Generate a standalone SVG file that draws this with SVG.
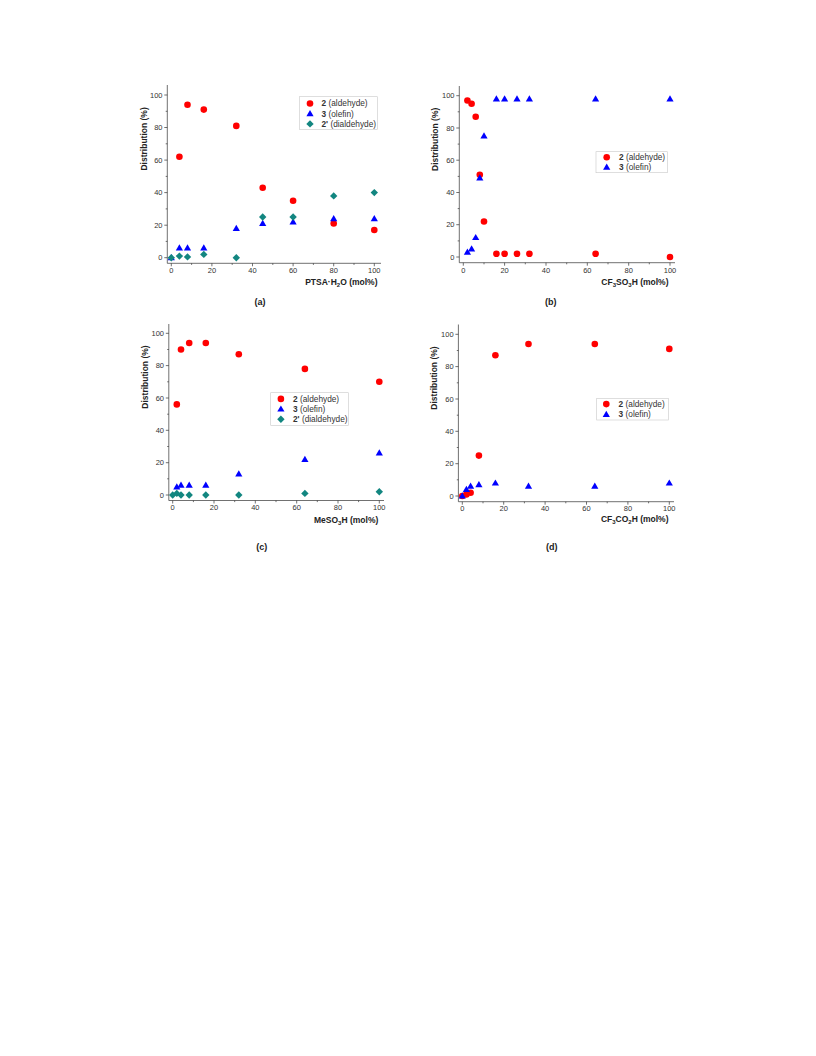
<svg xmlns="http://www.w3.org/2000/svg" xmlns:xlink="http://www.w3.org/1999/xlink" width="816" height="1056" viewBox="0 0 816 1056">
<style>
.ax{stroke:#333;stroke-width:0.7;fill:none}
.tk{font-family:"Liberation Sans",Arial,sans-serif;font-size:7.5px;fill:#333}
.tx{text-anchor:middle}
.ty{text-anchor:end}
.tt{font-family:"Liberation Sans",Arial,sans-serif;font-size:8.5px;font-weight:bold;fill:#222}
.lg{font-family:"Liberation Sans",Arial,sans-serif;font-size:8.3px;fill:#333}
.lb{stroke:#c8c8c8;stroke-width:0.6;fill:#fff}
.pl{font-family:"Liberation Sans",Arial,sans-serif;font-size:9px;font-weight:bold;fill:#222;text-anchor:middle}
.sub{font-size:6px}
</style>
<defs>
<circle id="c" r="3.3" fill="#ff0000"/>
<polygon id="t" points="0,-3.7 3.6,2.5 -3.6,2.5" fill="#0000ff"/>
<polygon id="d" points="0,-3.7 3.7,0 0,3.7 -3.7,0" fill="#128680"/>
</defs>
<rect width="816" height="1056" fill="#fff"/>

<!-- Panel (a) -->
<g id="panel-a">
<path class="ax" d="M167.3,85V263.3H381"/>
<path class="ax" d="M171.3,263.3v3M211.9,263.3v3M252.5,263.3v3M293.1,263.3v3M333.7,263.3v3M374.3,263.3v3M191.6,263.3v1.6M232.2,263.3v1.6M272.8,263.3v1.6M313.4,263.3v1.6M354,263.3v1.6M167.3,257.7h-3M167.3,225.2h-3M167.3,192.6h-3M167.3,160.1h-3M167.3,127.5h-3M167.3,95h-3M167.3,241.4h-1.6M167.3,208.9h-1.6M167.3,176.4h-1.6M167.3,143.8h-1.6M167.3,111.3h-1.6"/>
<g class="tk tx"><text x="171.3" y="272.7">0</text><text x="211.9" y="272.7">20</text><text x="252.5" y="272.7">40</text><text x="293.1" y="272.7">60</text><text x="333.7" y="272.7">80</text><text x="374.3" y="272.7">100</text></g>
<g class="tk ty"><text x="162.5" y="260.4">0</text><text x="162.5" y="227.9">20</text><text x="162.5" y="195.3">40</text><text x="162.5" y="162.8">60</text><text x="162.5" y="130.2">80</text><text x="162.5" y="97.7">100</text></g>
<text class="tt" transform="translate(147,138.9) rotate(-90)" text-anchor="middle">Distribution (%)</text>
<text class="tt" x="377.5" y="284.5" text-anchor="end">PTSA·H<tspan class="sub" dy="2">2</tspan><tspan dy="-2">O (mol%)</tspan></text>
<g id="a-s2"><use href="#c" x="179.4" y="156.8"/><use href="#c" x="187.5" y="104.8"/><use href="#c" x="203.8" y="109.6"/><use href="#c" x="236.3" y="125.9"/><use href="#c" x="262.7" y="187.7"/><use href="#c" x="293.1" y="200.8"/><use href="#c" x="333.7" y="223.5"/><use href="#c" x="374.3" y="230"/></g>
<g id="a-s3"><use href="#t" x="171.3" y="257.7"/><use href="#t" x="179.4" y="248"/><use href="#t" x="187.5" y="248"/><use href="#t" x="203.8" y="248"/><use href="#t" x="236.3" y="228.4"/><use href="#t" x="262.7" y="223.5"/><use href="#t" x="293.1" y="221.9"/><use href="#t" x="333.7" y="218.7"/><use href="#t" x="374.3" y="218.7"/></g>
<g id="a-s2p"><use href="#d" x="171.3" y="257.7"/><use href="#d" x="179.4" y="256.1"/><use href="#d" x="187.5" y="256.9"/><use href="#d" x="203.8" y="254.4"/><use href="#d" x="236.3" y="257.7"/><use href="#d" x="262.7" y="217"/><use href="#d" x="293.1" y="217"/><use href="#d" x="333.7" y="195.9"/><use href="#d" x="374.3" y="192.6"/></g>
<g id="a-legend">
<rect class="lb" x="299.3" y="96.7" width="78" height="32.6"/>
<use href="#c" x="310" y="103.5"/><use href="#t" x="310" y="113.7"/><use href="#d" x="310" y="123.9"/>
<text class="lg" x="321.5" y="106.4"><tspan font-weight="bold">2</tspan> (aldehyde)</text>
<text class="lg" x="321.5" y="116.6"><tspan font-weight="bold">3</tspan> (olefin)</text>
<text class="lg" x="321.5" y="126.8"><tspan font-weight="bold">2'</tspan> (dialdehyde)</text>
</g>
<text class="pl" x="260" y="305">(a)</text>
</g>

<!-- Panel (b) -->
<g id="panel-b">
<path class="ax" d="M459.3,86V262.7H675"/>
<path class="ax" d="M463.3,262.7v3M504.6,262.7v3M546,262.7v3M587.3,262.7v3M628.7,262.7v3M670,262.7v3M484,262.7v1.6M525.3,262.7v1.6M566.7,262.7v1.6M608,262.7v1.6M649.3,262.7v1.6M459.3,257h-3M459.3,224.7h-3M459.3,192.5h-3M459.3,160.2h-3M459.3,128h-3M459.3,95.7h-3M459.3,240.9h-1.6M459.3,208.6h-1.6M459.3,176.4h-1.6M459.3,144.1h-1.6M459.3,111.8h-1.6"/>
<g class="tk tx"><text x="463.3" y="272.7">0</text><text x="504.6" y="272.7">20</text><text x="546" y="272.7">40</text><text x="587.3" y="272.7">60</text><text x="628.7" y="272.7">80</text><text x="670" y="272.7">100</text></g>
<g class="tk ty"><text x="454.5" y="259.7">0</text><text x="454.5" y="227.4">20</text><text x="454.5" y="195.2">40</text><text x="454.5" y="162.9">60</text><text x="454.5" y="130.7">80</text><text x="454.5" y="98.4">100</text></g>
<text class="tt" transform="translate(437.7,139.3) rotate(-90)" text-anchor="middle">Distribution (%)</text>
<text class="tt" x="668.5" y="284.5" text-anchor="end">CF<tspan class="sub" dy="2">3</tspan><tspan dy="-2">SO</tspan><tspan class="sub" dy="2">3</tspan><tspan dy="-2">H (mol%)</tspan></text>
<g id="b-s2"><use href="#c" x="467.4" y="100.5"/><use href="#c" x="471.6" y="103.8"/><use href="#c" x="475.7" y="116.7"/><use href="#c" x="479.8" y="174.7"/><use href="#c" x="484" y="221.5"/><use href="#c" x="496.4" y="253.8"/><use href="#c" x="504.6" y="253.8"/><use href="#c" x="517" y="253.8"/><use href="#c" x="529.4" y="253.8"/><use href="#c" x="595.6" y="253.8"/><use href="#c" x="670" y="257"/></g>
<g id="b-s3"><use href="#t" x="467.4" y="252.2"/><use href="#t" x="471.6" y="248.9"/><use href="#t" x="475.7" y="237.6"/><use href="#t" x="479.8" y="178"/><use href="#t" x="484" y="136"/><use href="#t" x="496.4" y="98.9"/><use href="#t" x="504.6" y="98.9"/><use href="#t" x="517" y="98.9"/><use href="#t" x="529.4" y="98.9"/><use href="#t" x="595.6" y="98.9"/><use href="#t" x="670" y="98.9"/></g>
<g id="b-legend">
<rect class="lb" x="596" y="151.7" width="71.3" height="21"/>
<use href="#c" x="606.7" y="157.3"/><use href="#t" x="606.7" y="167.3"/>
<text class="lg" x="619" y="160.2"><tspan font-weight="bold">2</tspan> (aldehyde)</text>
<text class="lg" x="619" y="170.2"><tspan font-weight="bold">3</tspan> (olefin)</text>
</g>
<text class="pl" x="550.7" y="305">(b)</text>
</g>

<!-- Panel (c) -->
<g id="panel-c">
<path class="ax" d="M168.8,324V500.5H384"/>
<path class="ax" d="M172.7,500.5v3M214,500.5v3M255.3,500.5v3M296.7,500.5v3M338,500.5v3M379.3,500.5v3M193.4,500.5v1.6M234.7,500.5v1.6M276,500.5v1.6M317.3,500.5v1.6M358.6,500.5v1.6M168.8,495h-3M168.8,462.7h-3M168.8,430.3h-3M168.8,398h-3M168.8,365.6h-3M168.8,333.3h-3M168.8,478.8h-1.6M168.8,446.5h-1.6M168.8,414.2h-1.6M168.8,381.8h-1.6M168.8,349.5h-1.6"/>
<g class="tk tx"><text x="172.7" y="510.4">0</text><text x="214" y="510.4">20</text><text x="255.3" y="510.4">40</text><text x="296.7" y="510.4">60</text><text x="338" y="510.4">80</text><text x="379.3" y="510.4">100</text></g>
<g class="tk ty"><text x="164" y="497.7">0</text><text x="164" y="465.4">20</text><text x="164" y="433">40</text><text x="164" y="400.7">60</text><text x="164" y="368.3">80</text><text x="164" y="336">100</text></g>
<text class="tt" transform="translate(147.7,377) rotate(-90)" text-anchor="middle">Distribution (%)</text>
<text class="tt" x="378.3" y="522.5" text-anchor="end">MeSO<tspan class="sub" dy="2">3</tspan><tspan dy="-2">H (mol%)</tspan></text>
<g id="c-s2"><use href="#c" x="176.8" y="404.4"/><use href="#c" x="181" y="349.5"/><use href="#c" x="189.2" y="343"/><use href="#c" x="205.8" y="343"/><use href="#c" x="238.8" y="354.3"/><use href="#c" x="304.9" y="368.9"/><use href="#c" x="379.3" y="381.8"/></g>
<g id="c-s3"><use href="#t" x="176.8" y="486.9"/><use href="#t" x="181" y="485.3"/><use href="#t" x="189.2" y="485.3"/><use href="#t" x="205.8" y="485.3"/><use href="#t" x="238.8" y="474"/><use href="#t" x="304.9" y="459.4"/><use href="#t" x="379.3" y="453"/></g>
<g id="c-s2p"><use href="#d" x="172.7" y="495"/><use href="#d" x="176.8" y="493.4"/><use href="#d" x="181" y="495"/><use href="#d" x="189.2" y="495"/><use href="#d" x="205.8" y="495"/><use href="#d" x="238.8" y="495"/><use href="#d" x="304.9" y="493.4"/><use href="#d" x="379.3" y="491.8"/></g>
<g id="c-legend">
<rect class="lb" x="270.7" y="392.7" width="77.6" height="32.6"/>
<use href="#c" x="280.9" y="398.9"/><use href="#t" x="280.9" y="409.1"/><use href="#d" x="280.9" y="419.3"/>
<text class="lg" x="293" y="401.8"><tspan font-weight="bold">2</tspan> (aldehyde)</text>
<text class="lg" x="293" y="412"><tspan font-weight="bold">3</tspan> (olefin)</text>
<text class="lg" x="293" y="422.2"><tspan font-weight="bold">2'</tspan> (dialdehyde)</text>
</g>
<text class="pl" x="261.7" y="549.5">(c)</text>
</g>

<!-- Panel (d) -->
<g id="panel-d">
<path class="ax" d="M458.4,324.5V501.7H674"/>
<path class="ax" d="M462.3,501.7v3M503.7,501.7v3M545.1,501.7v3M586.5,501.7v3M627.9,501.7v3M669.3,501.7v3M483,501.7v1.6M524.4,501.7v1.6M565.8,501.7v1.6M607.2,501.7v1.6M648.6,501.7v1.6M458.4,496h-3M458.4,463.7h-3M458.4,431.3h-3M458.4,399h-3M458.4,366.6h-3M458.4,334.3h-3M458.4,479.8h-1.6M458.4,447.5h-1.6M458.4,415.2h-1.6M458.4,382.8h-1.6M458.4,350.5h-1.6"/>
<g class="tk tx"><text x="462.3" y="511">0</text><text x="503.7" y="511">20</text><text x="545.1" y="511">40</text><text x="586.5" y="511">60</text><text x="627.9" y="511">80</text><text x="669.3" y="511">100</text></g>
<g class="tk ty"><text x="453.6" y="498.7">0</text><text x="453.6" y="466.4">20</text><text x="453.6" y="434">40</text><text x="453.6" y="401.7">60</text><text x="453.6" y="369.3">80</text><text x="453.6" y="337">100</text></g>
<text class="tt" transform="translate(436.7,378) rotate(-90)" text-anchor="middle">Distribution (%)</text>
<text class="tt" x="668.5" y="521.5" text-anchor="end">CF<tspan class="sub" dy="2">3</tspan><tspan dy="-2">CO</tspan><tspan class="sub" dy="2">2</tspan><tspan dy="-2">H (mol%)</tspan></text>
<g id="d-s2"><use href="#c" x="462.3" y="496"/><use href="#c" x="466.4" y="494.4"/><use href="#c" x="470.6" y="492.8"/><use href="#c" x="478.9" y="455.6"/><use href="#c" x="495.4" y="355.3"/><use href="#c" x="528.5" y="344"/><use href="#c" x="594.8" y="344"/><use href="#c" x="669.3" y="348.9"/></g>
<g id="d-s3"><use href="#t" x="462.3" y="496"/><use href="#t" x="466.4" y="489.5"/><use href="#t" x="470.6" y="486.3"/><use href="#t" x="478.9" y="484.7"/><use href="#t" x="495.4" y="483.1"/><use href="#t" x="528.5" y="486.3"/><use href="#t" x="594.8" y="486.3"/><use href="#t" x="669.3" y="483.1"/></g>
<g id="d-legend">
<rect class="lb" x="596.7" y="398.3" width="71.6" height="21.7"/>
<use href="#c" x="606.3" y="404.1"/><use href="#t" x="606.3" y="414.5"/>
<text class="lg" x="618.6" y="407"><tspan font-weight="bold">2</tspan> (aldehyde)</text>
<text class="lg" x="618.6" y="417.4"><tspan font-weight="bold">3</tspan> (olefin)</text>
</g>
<text class="pl" x="551.7" y="549.5">(d)</text>
</g>
</svg>
